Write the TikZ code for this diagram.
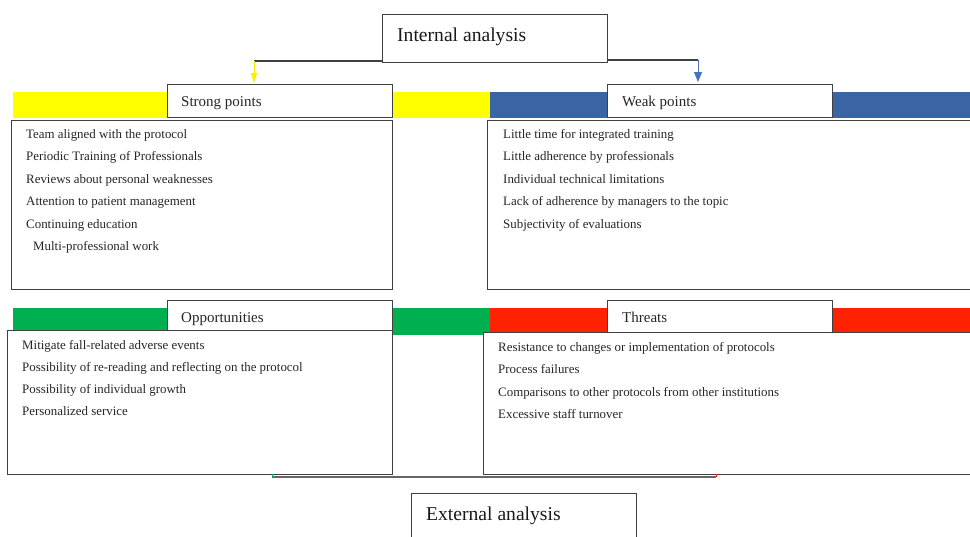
\documentclass[tikz,border=0pt]{standalone}
\usepackage{fontspec}
\setmainfont{Liberation Serif}
\usetikzlibrary{arrows.meta}
\definecolor{barY}{HTML}{FFFF00}
\definecolor{barB}{HTML}{3A64A4}
\definecolor{barG}{HTML}{00B050}
\definecolor{barR}{HTML}{FF2200}
\definecolor{edge}{HTML}{404040}
\definecolor{arrB}{HTML}{4472C4}
\begin{document}
\begin{tikzpicture}[x=1pt,y=-1pt,
  frame/.style={draw=edge, line width=1pt, fill=white, anchor=north west, inner sep=0pt},
  hdr/.style={frame, minimum width=225pt},
  hdrtext/.style={anchor=base west, inner sep=0pt, font=\fontsize{15}{17}\selectfont, text=black!85},
  bigtext/.style={anchor=base west, inner sep=0pt, font=\fontsize{19.6}{22}\selectfont, text=black!90},
  item/.style={anchor=base west, inner sep=0pt, font=\fontsize{12.9}{14}\selectfont, text=black!85}]
\useasboundingbox (0,0) rectangle (970,536);
\clip (0,0) rectangle (970,536);
% colour bars
\fill[barY] (13,92) rectangle (490,118);
\fill[barB] (490,92) rectangle (975,118);
\fill[barG] (13,308) rectangle (490,335);
\fill[barR] (490,308) rectangle (975,333);
% top box
\node[frame, minimum width=225pt, minimum height=48pt] (internal) at (382,14) {};
\node[bigtext] (internalT) at (397,41) {Internal analysis};
% header boxes
\node[hdr, minimum height=33pt] (strong) at (167,84) {};
\node[hdrtext] (strongT) at (181,106) {Strong points};
\node[hdr, minimum height=33pt] (weak) at (607,84) {};
\node[hdrtext] (weakT) at (622,106) {Weak points};
% content boxes
\node[frame, minimum width=381pt, minimum height=169pt] (strongbox) at (11,120) {};
\node[frame, minimum width=490pt, minimum height=169pt] (weakbox) at (487,120) {};
\node[frame, minimum width=385pt, minimum height=144pt] (oppbox) at (7,330) {};
\node[frame, minimum width=494pt, minimum height=142pt] (threatbox) at (483,332) {};
\node[hdr, minimum height=30pt] (opp) at (167,300) {};
\node[hdrtext] (oppT) at (181,322) {Opportunities};
\node[hdr, minimum height=32pt] (threat) at (607,300) {};
\node[hdrtext] (threatT) at (622,322) {Threats};
% connectors
\coordinate (yl) at (254,61);
\coordinate (bl) at (698,60);
\draw[edge, line width=1.1pt] (internal.south west |- yl) -- (yl);
\draw[barY!95!black, line width=1pt, -{Triangle[length=10pt,width=6pt]}] (yl) -- ++(0,22);
\draw[edge, line width=1.1pt] (internal.east |- bl) -- (bl);
\draw[arrB, line width=1pt, -{Triangle[length=10pt,width=8pt]}] (bl) -- ++(0,22);
% items
\foreach \t [count=\i from 0] in {Team aligned with the protocol,Periodic Training of Professionals,Reviews about personal weaknesses,Attention to patient management,Continuing education}
  \node[item] (s\i) at (26,138.5+22.4*\i) {\t};
\node[item] (s5) at (33,250.5) {Multi-professional work};
\foreach \t [count=\i from 0] in {Little time for integrated training,Little adherence by professionals,Individual technical limitations,Lack of adherence by managers to the topic,Subjectivity of evaluations}
  \node[item] (w\i) at (503,138.5+22.4*\i) {\t};
\foreach \t [count=\i from 0] in {Mitigate fall-related adverse events,Possibility of re-reading and reflecting on the protocol,Possibility of individual growth,Personalized service}
  \node[item] (o\i) at (22,349.5+22*\i) {\t};
\foreach \t [count=\i from 0] in {Resistance to changes or implementation of protocols,Process failures,Comparisons to other protocols from other institutions,Excessive staff turnover}
  \node[item] (t\i) at (498,351.5+22.3*\i) {\t};
% bottom connector
\coordinate (gl) at (272,477);
\coordinate (rl) at (716,477);
\draw[edge!80, line width=1.4pt] (gl) -- (rl);
\draw[barG, line width=0.8pt] (gl) -- ++(0,-3);
\draw[barR, line width=0.8pt] (rl) -- ++(0,-3);
% bottom box
\node[frame, minimum width=225pt, minimum height=50pt] (external) at (411,493) {};
\node[bigtext] (externalT) at (426,520) {External analysis};
\end{tikzpicture}
\end{document}
